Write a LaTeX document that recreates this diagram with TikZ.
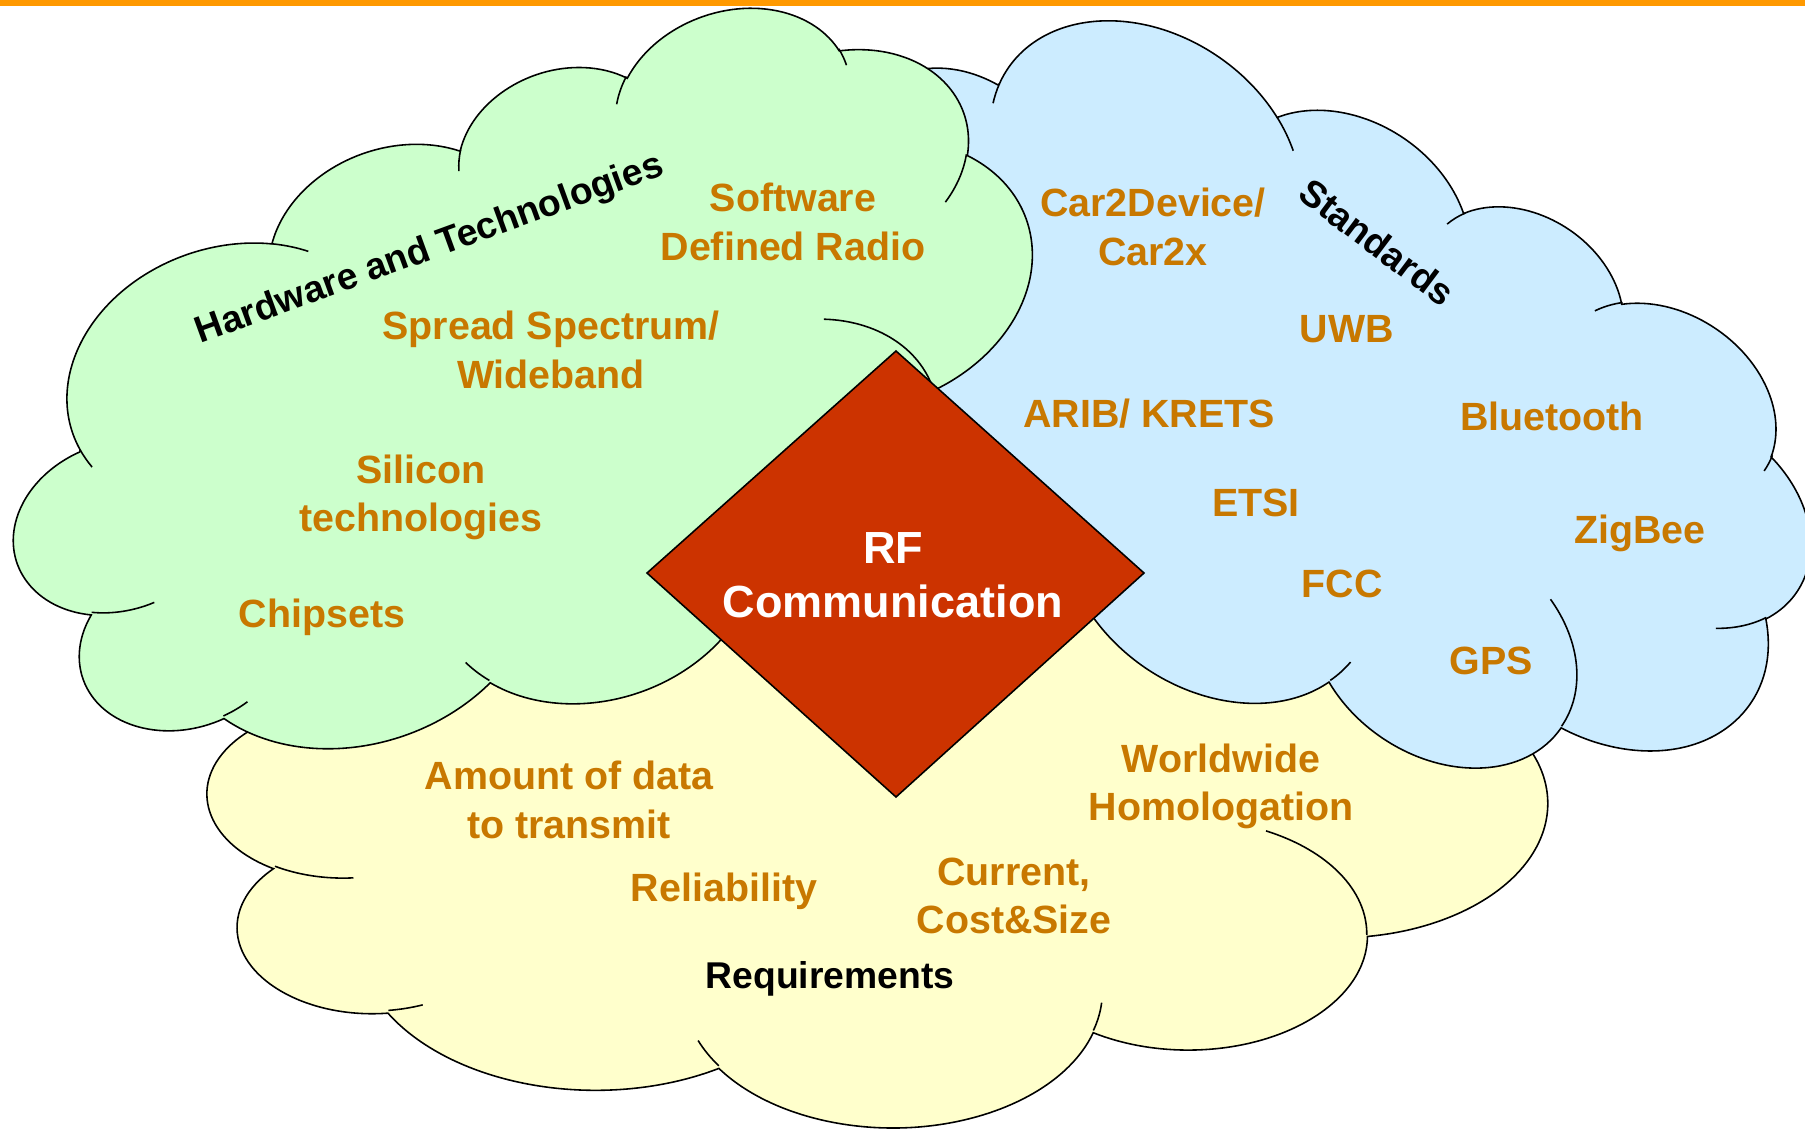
\documentclass[tikz,border=0pt]{standalone}
\usepackage{fontspec}
\setmainfont{Liberation Sans}
\usetikzlibrary{positioning}

\definecolor{hwgreen}{HTML}{CCFFCC}
\definecolor{stdblue}{HTML}{CCECFF}
\definecolor{reqyellow}{HTML}{FFFFCC}
\definecolor{rfred}{HTML}{CC3300}
\definecolor{itemorange}{RGB}{200,120,0}
\definecolor{barorange}{HTML}{FF9900}

% cloud outline, centred, in hundredths of its 43200 grid
\def\cloudpath{}
\def\cloudhooks{}
\newcommand\cloudarc[4]{%
  \pgfmathsetmacro\cldts{atan2(#1*sin(#3),#2*cos(#3))}%
  \pgfmathsetmacro\cldte{atan2(#1*sin(#3+#4),#2*cos(#3+#4))}%
  \pgfmathsetmacro\clddt{\cldte-\cldts}%
  \pgfmathsetmacro\clddt{\clddt-360*round((\clddt-#4)/360)}%
  \xdef\cloudpath{\cloudpath arc[x radius=#1,y radius=#2,start angle=\cldts,delta angle=\clddt]}}
\newcommand\cloudhook[6]{%
  \pgfmathsetmacro\cldts{atan2(#3*sin(#5),#4*cos(#5))}%
  \pgfmathsetmacro\cldte{atan2(#3*sin(#5+#6),#4*cos(#5+#6))}%
  \pgfmathsetmacro\clddt{\cldte-\cldts}%
  \pgfmathsetmacro\clddt{\clddt-360*round((\clddt-#6)/360)}%
  \xdef\cloudhooks{\cloudhooks (#1,#2) arc[x radius=#3,y radius=#4,start angle=\cldts,delta angle=\clddt]}}

\cloudarc{67.53}{91.90}{-190.4875}{123.7805}
\cloudarc{53.33}{72.67}{-144.1024}{89.9452}
\cloudarc{43.65}{59.45}{-145.8079}{99.7230}
\cloudarc{48.57}{65.95}{-130.9861}{117.2417}
\cloudarc{53.33}{72.73}{-78.7089}{109.0269}
\cloudarc{67.75}{92.20}{-46.2673}{130.2690}
\cloudarc{57.85}{78.67}{0.6250}{114.0333}
\cloudarc{67.52}{92.15}{22.4516}{115.1726}
\cloudarc{77.20}{105.43}{66.2426}{75.7110}
\cloudarc{43.60}{59.18}{-274.9421}{146.7356}
\cloudarc{43.45}{59.45}{-246.8285}{152.5189}

\cloudhook{-169.07}{45.77}{43.45}{59.45}{86.7420}{26.4295}
\cloudhook{-146.72}{132.99}{43.60}{59.18}{73.6105}{11.4475}
\cloudhook{-51.22}{174.90}{67.52}{92.15}{137.6242}{14.0811}
\cloudhook{72.27}{131.51}{67.52}{92.15}{6.4533}{15.9984}
\cloudhook{125.29}{13.54}{57.85}{78.67}{-70.2924}{70.9174}
\cloudhook{201.98}{-62.46}{53.33}{72.73}{30.3180}{27.7515}
\cloudhook{167.24}{-161.74}{48.57}{65.95}{-13.7443}{14.8589}
\cloudhook{74.78}{-176.48}{48.57}{65.95}{-149.1815}{18.1954}
\cloudhook{5.41}{-168.80}{43.65}{59.45}{-163.4943}{17.6864}
\cloudhook{-76.00}{-164.08}{67.53}{91.90}{-66.7070}{12.3194}
\cloudhook{-174.73}{-58.11}{67.53}{91.90}{157.6544}{11.8582}

\begin{document}
\begin{tikzpicture}[x=0.01cm, y=-0.01cm,
    cloudline/.style={draw=black, line width=0.45pt},
    item/.style={text=itemorange, font=\bfseries\fontsize{11.2}{13.7}\selectfont, align=center, inner sep=0pt},
    topic/.style={text=black, font=\bfseries\fontsize{10.6}{12.7}\selectfont, inner sep=0pt},
    core/.style={fill=rfred, draw=black, line width=0.45pt, line join=miter}
]
\useasboundingbox (0,0) rectangle (1805,1130);

% Requirements cloud
\begin{scope}[shift={(877.6,811.2)}, xscale=3.100, yscale=1.456]
  \filldraw[cloudline, fill=reqyellow] (-177,-72.3) \cloudpath -- cycle;
  \draw[cloudline] \cloudhooks;
\end{scope}

% Standards cloud
\begin{scope}[shift={(1305,411)}, rotate=-34, xscale=2.465, yscale=1.389]
  \filldraw[cloudline, fill=stdblue] (-177,-72.3) \cloudpath -- cycle;
  \draw[cloudline] \cloudhooks;
\end{scope}

% Hardware cloud
\begin{scope}[shift={(526,403)}, rotate=19.3, xscale=2.465, yscale=1.428]
  \filldraw[cloudline, fill=hwgreen] (-177,-72.3) \cloudpath -- cycle;
  \draw[cloudline] \cloudhooks;
\end{scope}

% centre
\filldraw[core] (896,351) -- (1144,573) -- (896,797) -- (647,573) -- cycle;
\node[text=white, font=\bfseries\fontsize{12.8}{15.4}\selectfont, align=center, inner sep=0pt] (rf) at (893,575) {RF\\Communication};

% titles
\node[topic, rotate=20] (hw) at (430,250) {Hardware and Technologies};
\node[topic, rotate=-37] (std) at (1377,242) {Standards};
\node[topic] (req) at (830,979) {Requirements};

% hardware items
\node[item] (sdr) at (793,222) {Software\\Defined Radio};
\node[item] (spread) at (551,350) {Spread Spectrum/\\Wideband};
\node[item] (silicon) at (421,497) {Silicon\\technologies};
\node[item] (chipsets) at (322,617) {Chipsets};

% standards items
\node[item] (car2x) at (1153,227) {Car2Device/\\Car2x};
\node[item] (uwb) at (1347,329) {UWB};
\node[item] (arib) at (1149,414) {ARIB/ KRETS};
\node[item] (bluetooth) at (1552,416) {Bluetooth};
\node[item] (etsi) at (1256,503) {ETSI};
\node[item] (zigbee) at (1640,533) {ZigBee};
\node[item] (fcc) at (1342,584) {FCC};
\node[item] (gps) at (1491,661) {GPS};

% requirement items
\node[item] (homolog) at (1221,786) {Worldwide\\Homologation};
\node[item] (amount) at (569,800) {Amount of data\\to transmit};
\node[item] (reliab) at (724,891) {Reliability};
\node[item] (cost) at (1014,896) {Current,\\Cost\&Size};

% top bar
\fill[barorange] (0,0) rectangle (1805,6);

\end{tikzpicture}
\end{document}
